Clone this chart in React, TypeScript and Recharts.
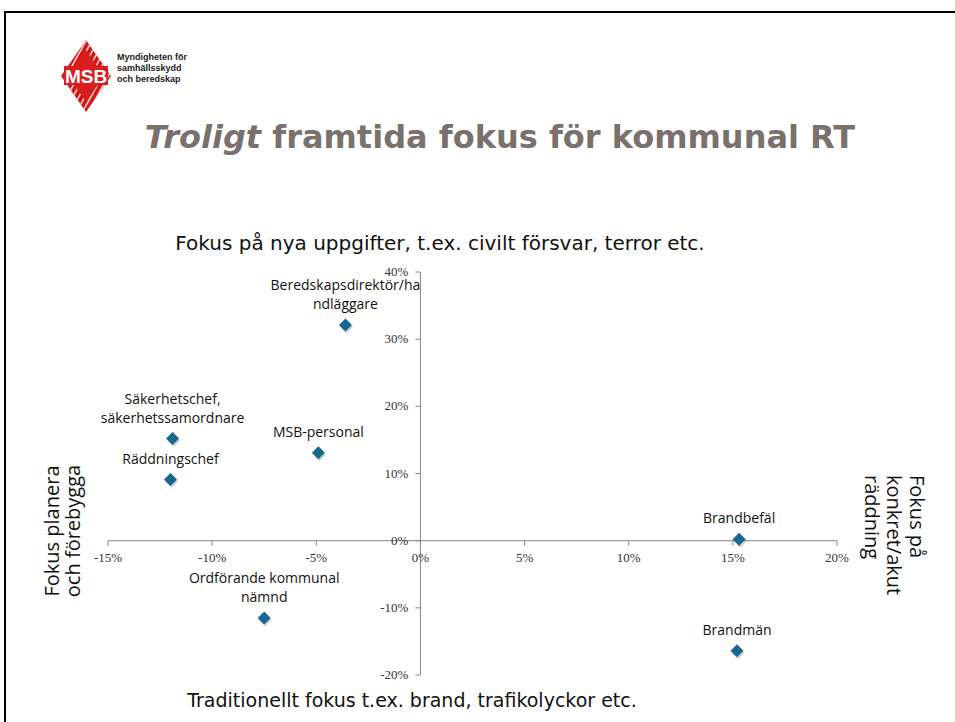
import { ScatterChart, Scatter, XAxis, YAxis, ReferenceLine, ReferenceDot } from "recharts";

// Roles as they appear on the slide (labels wrap where the original wraps)
const roles = [
  "Beredskapsdirektör/ha\nndläggare",
  "Säkerhetschef,\nsäkerhetssamordnare",
  "MSB-personal",
  "Räddningschef",
  "Brandbefäl",
  "Ordförande kommunal\nnämnd",
  "Brandmän",
];
const concreteShare = [-0.036, -0.119, -0.049, -0.12, 0.153, -0.075, 0.152];
const newTaskShare = [0.321, 0.152, 0.131, 0.091, 0.002, -0.115, -0.164];

const xTicks = [-0.15, -0.1, -0.05, 0, 0.05, 0.1, 0.15, 0.2];
const yTicks = [-0.2, -0.1, 0, 0.1, 0.2, 0.3, 0.4];

const data = roles.map((name, i) => ({ name, x: concreteShare[i], y: newTaskShare[i] }));

const MARKER = "#17678f";
const AXIS = "#868686";
const TICK_FONT = "'Liberation Serif', 'DejaVu Serif', serif";
const LABEL_FONT = "'Open Sans', 'Noto Sans', sans-serif";
const NOTE_FONT = "'DejaVu Sans', Verdana, sans-serif";

const pct = (v: number) => `${Math.round(v * 100)}%`;

function RolePoint(props: any) {
  const { cx, cy, payload } = props;
  if (cx == null || cy == null) return null;
  const s = 6.5;
  const d = (ox: number, oy: number) =>
    `M${cx + ox},${cy + oy - s} L${cx + ox + s},${cy + oy} L${cx + ox},${cy + oy + s} L${cx + ox - s},${cy + oy} Z`;
  const lines: string[] = String(payload.name).split("\n");
  return (
    <g>
      <path d={d(1, 2)} fill="#000" opacity={0.18} />
      <path d={d(0, 0)} fill={MARKER} />
      {lines.map((line, i) => (
        <text
          key={i}
          x={cx}
          y={cy - 16 - (lines.length - 1 - i) * 19}
          textAnchor="middle"
          fontFamily={LABEL_FONT}
          fontSize={14}
          fill="#111"
        >
          {line}
        </text>
      ))}
    </g>
  );
}

function XTick(props: any) {
  const { cx, cy, value } = props;
  return (
    <g>
      <line x1={cx} y1={cy} x2={cx} y2={cy + 5} stroke={AXIS} />
      <text x={cx} y={cy + 21} textAnchor="middle" fontFamily={TICK_FONT} fontSize={13} fill="#333">
        {pct(value)}
      </text>
    </g>
  );
}

function YTick(props: any) {
  const { cx, cy, value } = props;
  return (
    <g>
      <line x1={cx - 5} y1={cy} x2={cx} y2={cy} stroke={AXIS} />
      <text x={cx - 12} y={cy + 4} textAnchor="end" fontFamily={TICK_FONT} fontSize={13} fill="#333">
        {pct(value)}
      </text>
    </g>
  );
}

function SlideDecor() {
  return (
    <svg width={955} height={722} style={{ position: "absolute", left: 0, top: 0 }}>
      <rect x={0} y={0} width={955} height={722} fill="#fff" />
      <path d="M5,722 L5,12 L955,12" fill="none" stroke="#000" strokeWidth={2} />

      {/* MSB logo */}
      <defs>
        <clipPath id="logoClip">
          <path d="M86,40 L111,76 L86,112 L61,76 Z" />
        </clipPath>
      </defs>
      <g clipPath="url(#logoClip)">
        <rect x={58} y={38} width={56} height={76} fill="#d81e1e" />
        {Array.from({ length: 16 }).map((_, i) => (
          <line key={i} x1={30 + i * 6} y1={120} x2={80 + i * 6} y2={30} stroke="#fff" strokeWidth={1.5} opacity={0.85} />
        ))}
        <path d="M86,50 L104,76 L86,102 L68,76 Z" fill="#d81e1e" />
      </g>
      <rect x={64} y={66} width={44} height={19} fill="#d81e1e" />
      <text x={86} y={83} textAnchor="middle" fontFamily="'Liberation Sans', Arial, sans-serif" fontWeight="bold" fontSize={19} fill="#fff">
        MSB
      </text>
      <g fontFamily="'Liberation Sans', Arial, sans-serif" fontWeight="bold" fontSize={9} fill="#222">
        <text x={117} y={60}>Myndigheten för</text>
        <text x={117} y={71}>samhällsskydd</text>
        <text x={117} y={82}>och beredskap</text>
      </g>

      <text x={500} y={148} textAnchor="middle" fontFamily={NOTE_FONT} fontWeight="bold" fontSize={32} fill="#7b716c">
        <tspan fontStyle="italic">Troligt</tspan> framtida fokus för kommunal RT
      </text>

      <text x={440} y={250} textAnchor="middle" fontFamily={NOTE_FONT} fontSize={20} fill="#111">
        Fokus på nya uppgifter, t.ex. civilt försvar, terror etc.
      </text>
      <text x={412} y={707} textAnchor="middle" fontFamily={NOTE_FONT} fontSize={19} fill="#111">
        Traditionellt fokus t.ex. brand, trafikolyckor etc.
      </text>

      <g fontFamily={LABEL_FONT} fontSize={20} fill="#111">
        <text x={59} y={531} textAnchor="middle" transform="rotate(-90 59 531)">Fokus planera</text>
        <text x={80} y={531} textAnchor="middle" transform="rotate(-90 80 531)">och förebygga</text>
        <text x={910} y={475} transform="rotate(90 910 475)">Fokus på</text>
        <text x={887} y={475} transform="rotate(90 887 475)">konkret/akut</text>
        <text x={865} y={475} transform="rotate(90 865 475)">räddning</text>
      </g>
    </svg>
  );
}

export default function App() {
  return (
    <div style={{ position: "absolute", left: 0, top: 0, width: 955, height: 722, background: "#fff" }}>
      <SlideDecor />
      <div style={{ position: "absolute", left: 0, top: 0 }}>
        <ScatterChart width={955} height={722} margin={{ top: 272, right: 118, bottom: 47, left: 108 }}>
          <XAxis type="number" dataKey="x" domain={[-0.15, 0.2]} ticks={xTicks} hide />
          <YAxis type="number" dataKey="y" domain={[-0.2, 0.4]} ticks={yTicks} hide />
          <ReferenceLine y={0} stroke={AXIS} ifOverflow="visible" />
          <ReferenceLine x={0} stroke={AXIS} ifOverflow="visible" />
          {xTicks.map((v) => (
            <ReferenceDot key={`x${v}`} x={v} y={0} ifOverflow="visible" shape={(p: any) => <XTick {...p} value={v} />} />
          ))}
          {yTicks.map((v) => (
            <ReferenceDot key={`y${v}`} x={0} y={v} ifOverflow="visible" shape={(p: any) => <YTick {...p} value={v} />} />
          ))}
          <Scatter data={data} shape={(p: any) => <RolePoint {...p} />} isAnimationActive={false} />
        </ScatterChart>
      </div>
    </div>
  );
}
